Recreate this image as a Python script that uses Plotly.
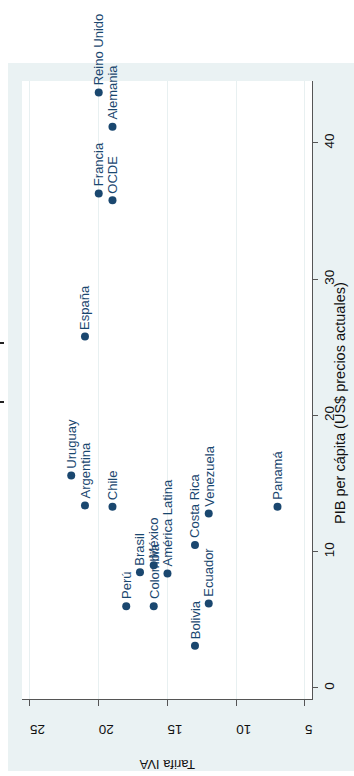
import plotly.graph_objects as go

countries = ["Reino Unido", "Alemania", "Francia", "OCDE", "España", "Uruguay",
             "Argentina", "Chile", "Perú", "Brasil", "Colombia", "México",
             "América Latina", "Costa Rica", "Venezuela", "Ecuador", "Bolivia", "Panamá"]
iva = [20, 19, 20, 19, 21, 22, 21, 19, 18, 17, 16, 16, 15, 13, 12, 12, 13, 7]
pib = [43.7, 41.2, 36.3, 35.8, 25.8, 15.6, 13.4, 13.3, 6.0, 8.5, 6.0, 9.0,
       8.4, 10.5, 12.8, 6.2, 3.1, 13.3]
iva_ticks = [25, 20, 15, 10, 5]
pib_ticks = [0, 10, 20, 30, 40]

W, H = 354, 776
L, R, T, B = 22, 312, 81, 699   # plot area in pixels
NAVY = "#1a476f"
FONT = "Liberation Sans, Arial, sans-serif"

def px(x):
    return (x - L) / (R - L)

def py(y):
    return (B - y) / (B - T)

fig = go.Figure()
fig.add_trace(go.Scatter(
    x=iva, y=pib, mode="markers",
    marker=dict(size=8, color=NAVY),
    hoverinfo="skip", showlegend=False, cliponaxis=False,
))

ann = []
for c, xv, yv in zip(countries, iva, pib):
    ann.append(dict(x=xv, y=yv, xref="x", yref="y", text=c, showarrow=False,
                    textangle=-90, xanchor="center", yanchor="bottom", yshift=5,
                    font=dict(family=FONT, size=13, color=NAVY)))

ann.append(dict(x=px(167), y=py(765), xref="paper", yref="paper", text="Tarifa IVA",
                showarrow=False, textangle=180, xanchor="center", yanchor="middle",
                font=dict(family=FONT, size=13, color="#111")))
ann.append(dict(x=px(340), y=py(403), xref="paper", yref="paper",
                text="PIB per cápita (US$ precios actuales)",
                showarrow=False, textangle=-90, xanchor="center", yanchor="middle",
                font=dict(family=FONT, size=14.5, color="#111")))

shapes = [
    dict(type="rect", xref="paper", yref="paper", x0=px(8), x1=px(356), y0=py(771), y1=py(63),
         fillcolor="#eaf2f3", line=dict(width=0), layer="below"),
    dict(type="rect", xref="paper", yref="paper", x0=0, x1=1, y0=0, y1=1,
         fillcolor="white", line=dict(width=0), layer="below"),
    dict(type="line", xref="paper", yref="paper", x0=px(0), x1=px(4), y0=py(343), y1=py(343),
         line=dict(color="#222", width=2)),
    dict(type="line", xref="paper", yref="paper", x0=px(0), x1=px(4), y0=py(402), y1=py(402),
         line=dict(color="#222", width=2)),
]

fig.update_layout(
    width=W, height=H,
    margin=dict(l=L, r=W - R, t=T, b=H - B),
    paper_bgcolor="white", plot_bgcolor="white",
    annotations=ann, shapes=shapes,
    xaxis=dict(range=[25.58, 4.49], tickvals=iva_ticks, ticktext=[str(v) for v in iva_ticks],
               tickangle=180, ticks="outside", ticklen=6, tickcolor="#555",
               showline=True, linecolor="#555", linewidth=1, mirror=False,
               showgrid=True, gridcolor="#e8f0f1", zeroline=False,
               ticklabelstandoff=16,
               tickfont=dict(family=FONT, size=13.5, color="#111")),
    yaxis=dict(range=[-0.81, 44.55], tickvals=pib_ticks, ticktext=[str(v) for v in pib_ticks],
               side="right", tickangle=-90, ticks="outside", ticklen=5, tickcolor="#555",
               showline=True, linecolor="#555", linewidth=1,
               showgrid=False, zeroline=False,
               tickfont=dict(family=FONT, size=13.5, color="#111")),
)

fig.write_html("out.html", config={"displayModeBar": False},
               post_script="document.body.style.margin='0';document.body.style.padding='0';")
